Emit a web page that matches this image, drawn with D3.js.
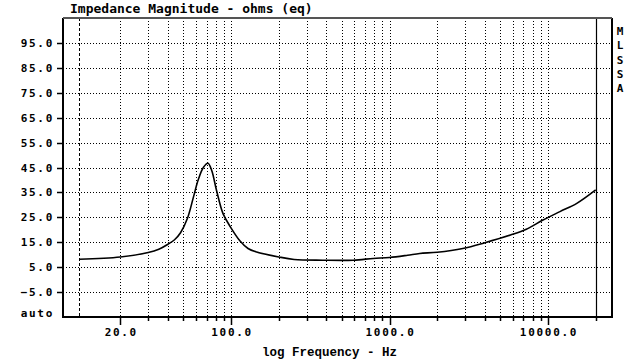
<!DOCTYPE html>
<html>
<head>
<meta charset="utf-8">
<script src="https://d3js.org/d3.v7.min.js"></script>
<style>
  body { margin: 0; background: #fff; }
  text { font-family: "DejaVu Sans Mono", monospace; font-weight: bold; fill: #000; }
</style>
</head>
<body>
<div id="chart"></div>
<script>
// frequency (Hz) and impedance (ohms)
var freq = [11, 20, 30, 35, 40, 44, 48, 53, 58, 62, 67, 71.5, 75.5, 81, 89, 99, 114, 128, 145,
            200, 250, 380, 590, 790, 1000, 1300, 1550, 2000, 2900, 4000, 5800, 7300,
            9300, 11900, 15200, 20000];
var ohms = [8.2, 9.1, 10.9, 12.2, 14.2, 16.0, 18.8, 24.5, 33.3, 40, 45.1, 46.7, 43.8, 35.8, 26.5, 21.2, 15.5, 12.5, 11.1,
            9.1, 8.1, 7.8, 7.8, 8.5, 8.9, 9.8, 10.5, 11.0, 12.5, 14.8, 17.9, 20.2,
            23.9, 27.3, 30.6, 36.0];

var yTicks = [95, 85, 75, 65, 55, 45, 35, 25, 15, 5, -5];
var xLabels = [20, 100, 1000, 10000];
var xGrid = [20, 30, 40, 50, 60, 70, 80, 90,
             100, 200, 300, 400, 500, 600, 700, 800, 900,
             1000, 2000, 3000, 4000, 5000, 6000, 7000, 8000, 9000, 10000];
var fStart = 11, fEnd = 20000;
var xDomain = [8.7, 25350];
var yDomain = [-15, 105];

create_chart();
function create_chart(){
    var width = 637, height = 363;
    var plot = {left: 63, right: 612, top: 18, bottom: 317};

    var svg = d3.select("#chart")
      .append("svg")
      .attr("width", width)
      .attr("height", height);

    var x = d3.scaleLog().domain(xDomain).range([plot.left, plot.right]);
    var y = d3.scaleLinear().domain(yDomain).range([plot.bottom, plot.top]);

    // horizontal grid
    svg.selectAll("hgrid")
      .data(yTicks)
      .enter()
      .append("line")
      .attr("x1", plot.left).attr("x2", plot.right)
      .attr("y1", d => Math.round(y(d)) + 0.5).attr("y2", d => Math.round(y(d)) + 0.5)
      .attr("stroke", "#000")
      .attr("stroke-dasharray", "1,2");

    // vertical grid
    svg.selectAll("vgrid")
      .data(xGrid)
      .enter()
      .append("line")
      .attr("x1", d => Math.round(x(d)) + 0.5).attr("x2", d => Math.round(x(d)) + 0.5)
      .attr("y1", plot.top).attr("y2", plot.bottom)
      .attr("stroke", "#000")
      .attr("stroke-dasharray", "1,2");

    // start / end markers of the measured range
    svg.append("line")
      .attr("x1", Math.round(x(fStart)) + 0.5).attr("x2", Math.round(x(fStart)) + 0.5)
      .attr("y1", plot.top).attr("y2", plot.bottom)
      .attr("stroke", "#000")
      .attr("stroke-dasharray", "3,2");
    svg.append("line")
      .attr("x1", Math.round(x(fEnd)) + 0.5).attr("x2", Math.round(x(fEnd)) + 0.5)
      .attr("y1", plot.top).attr("y2", plot.bottom)
      .attr("stroke", "#000")
      .attr("stroke-width", 1.2);

    // frame
    svg.append("line").attr("x1", plot.left).attr("x2", plot.left)
      .attr("y1", plot.top).attr("y2", plot.bottom + 1)
      .attr("stroke", "#000").attr("stroke-width", 2);
    svg.append("line").attr("x1", plot.left).attr("x2", plot.right + 1)
      .attr("y1", plot.bottom).attr("y2", plot.bottom)
      .attr("stroke", "#000").attr("stroke-width", 2);
    svg.append("line").attr("x1", plot.right).attr("x2", plot.right)
      .attr("y1", plot.top).attr("y2", plot.bottom)
      .attr("stroke", "#000").attr("stroke-width", 2);
    svg.append("line").attr("x1", plot.left).attr("x2", plot.right)
      .attr("y1", plot.top).attr("y2", plot.top)
      .attr("stroke", "#555").attr("stroke-width", 2);

    // y ticks and labels
    svg.selectAll("ytick")
      .data(yTicks)
      .enter()
      .append("line")
      .attr("x1", plot.left - 6).attr("x2", plot.left)
      .attr("y1", d => Math.round(y(d)) + 0.5).attr("y2", d => Math.round(y(d)) + 0.5)
      .attr("stroke", "#000").attr("stroke-width", 1.5);
    svg.selectAll("ylabel")
      .data(yTicks)
      .enter()
      .append("text")
      .attr("x", 54)
      .attr("y", d => y(d) + 4)
      .attr("text-anchor", "end")
      .style("font-size", "11px")
      .style("letter-spacing", "1.7px")
      .text(d => d3.format(".1f")(d));
    svg.append("text")
      .attr("x", 54).attr("y", plot.bottom)
      .attr("text-anchor", "end")
      .style("font-size", "11px")
      .style("letter-spacing", "1.7px")
      .text("auto");

    // x ticks and labels
    svg.selectAll("xtick")
      .data(xGrid.concat([fEnd]))
      .enter()
      .append("line")
      .attr("x1", d => Math.round(x(d)) + 0.5).attr("x2", d => Math.round(x(d)) + 0.5)
      .attr("y1", plot.bottom)
      .attr("y2", d => xLabels.indexOf(d) >= 0 ? plot.bottom + 8 : plot.bottom + 4)
      .attr("stroke", "#000").attr("stroke-width", 1.5);
    svg.selectAll("xlabel")
      .data(xLabels)
      .enter()
      .append("text")
      .attr("x", d => x(d) + 1)
      .attr("y", 336)
      .attr("text-anchor", "middle")
      .style("font-size", "11px")
      .style("letter-spacing", "1.7px")
      .text(d => d3.format(".1f")(d));

    // impedance curve
    var line = d3.line()
      .x((d, i) => x(freq[i]))
      .y(d => y(d))
      .curve(d3.curveCatmullRom.alpha(0.5));
    svg.append("path")
      .datum(ohms)
      .attr("d", line)
      .attr("fill", "none")
      .attr("stroke", "#000")
      .attr("stroke-width", 1.6);

    // titles
    svg.append("text")
      .attr("x", 70).attr("y", 13)
      .style("font-size", "13px")
      .text("Impedance Magnitude - ohms (eq)");
    svg.append("text")
      .attr("x", 262).attr("y", 356)
      .style("font-family", "'Liberation Mono', monospace")
      .style("font-size", "12.5px")
      .text("log Frequency - Hz");

    svg.selectAll("brand")
      .data("MLSSA".split(""))
      .enter()
      .append("text")
      .attr("x", 620)
      .attr("y", (d, i) => 35 + i * 14.3)
      .attr("text-anchor", "middle")
      .style("font-size", "11px")
      .text(d => d);
}
</script>
</body>
</html>
